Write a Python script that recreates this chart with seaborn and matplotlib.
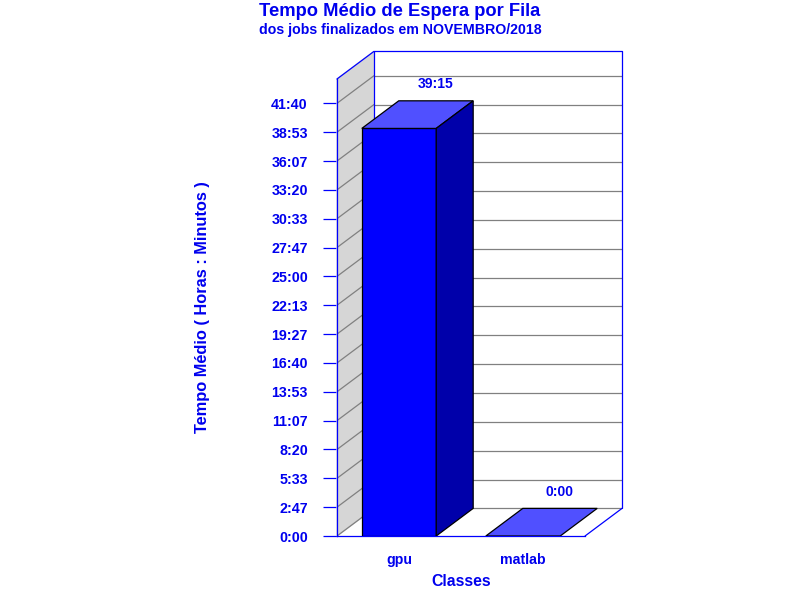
import numpy as np
import matplotlib
matplotlib.use("Agg")
import matplotlib.pyplot as plt
import seaborn as sns

# data (wait time in minutes)
classes = ["gpu", "matlab"]
wait_minutes = [2355, 0]
value_labels = ["39:15", "0:00"]

tick_values = np.linspace(0, 2500, 16)


def fmt_hm(m):
    m = int(round(m))
    return f"{m // 60}:{m % 60:02d}"


sns.set_theme(style="white")
plt.rcParams['font.family'] = ['Liberation Sans', 'DejaVu Sans']
plt.rcParams['font.weight'] = 'bold'

BLUE = "#0000ff"
TXT = "#0000ee"
W, H = 800, 600
fig = plt.figure(figsize=(8, 6), dpi=100)
fig.patch.set_facecolor("white")

# axes box: front plane 337..585 px, depth up to 622 px, baseline 536 px
ax = fig.add_axes([337 / W, 64 / H, 285 / W, 484.6 / H])
ax.set_facecolor("none")

ymax = 2800
dx = 0.298   # depth offset in category units
dy = 159.5   # depth offset in minutes
bw = 0.6

sns.barplot(x=classes, y=wait_minutes, color=BLUE, width=bw, saturation=1,
            edgecolor="black", linewidth=0.9, ax=ax, zorder=5)

x0, x1 = -0.5, 1.5
# back wall
ax.fill([x0 + dx, x1 + dx, x1 + dx, x0 + dx], [dy, dy, ymax, ymax],
        color="white", zorder=0.5, clip_on=False)
ax.plot([x0 + dx, x0 + dx, x1 + dx, x1 + dx], [dy, ymax, ymax, dy],
        color=BLUE, lw=0.9, zorder=2, clip_on=False)
# left wall
ax.fill([x0, x0 + dx, x0 + dx, x0], [0, dy, ymax, ymax - dy],
        color="#d6d6d6", zorder=0.6, clip_on=False)
ax.plot([x0, x0 + dx], [ymax - dy, ymax], color=BLUE, lw=0.9, zorder=2, clip_on=False)
# grid lines on back and left walls
for t in tick_values:
    ax.plot([x0 + dx, x1 + dx], [t + dy, t + dy], color="#808080", lw=0.9, zorder=1)
    ax.plot([x0, x0 + dx], [t, t + dy], color="#808080", lw=0.9, zorder=1)
# floor right edge
ax.plot([x1, x1 + dx], [0, dy], color=BLUE, lw=0.9, zorder=2, clip_on=False)

# 3d faces of the bars
for i, v in enumerate(wait_minutes):
    l, r = i - bw / 2, i + bw / 2
    ax.fill([l, r, r + dx, l + dx], [v, v, v + dy, v + dy], facecolor="#5050ff",
            edgecolor="black", lw=0.9, zorder=6)
    if v > 0:
        ax.fill([r, r + dx, r + dx, r], [0, dy, v + dy, v], facecolor="#0000aa",
                edgecolor="black", lw=0.9, zorder=6)
    ax.annotate(value_labels[i], (i + dx, v + dy), xytext=(0, 7),
                textcoords="offset points", ha="center", va="bottom",
                color=TXT, fontsize=10, fontweight="bold")

ax.set_xlim(x0, x1 + dx)
ax.set_ylim(0, ymax)
ax.set_yticks(tick_values)
ax.set_yticklabels([fmt_hm(t) for t in tick_values])
ax.tick_params(axis="y", direction="out", length=10, width=0.9, color=BLUE,
               labelcolor=TXT, labelsize=10.3, pad=11, left=True)
ax.tick_params(axis="x", length=0, labelcolor=TXT, labelsize=10.2, pad=12)
for lab in ax.get_yticklabels() + ax.get_xticklabels():
    lab.set_fontweight("bold")

for s in ["top", "right"]:
    ax.spines[s].set_visible(False)
ax.spines["left"].set_color(BLUE)
ax.spines["left"].set_linewidth(0.9)
ax.spines["left"].set_bounds(0, ymax - dy)
ax.spines["bottom"].set_color(BLUE)
ax.spines["bottom"].set_linewidth(0.9)
ax.spines["bottom"].set_bounds(x0, x1)
ax.spines["left"].set_zorder(7)
ax.set_xlabel("")
ax.set_ylabel("")

fig.text(461 / W, 1 - 582 / H, "Classes", ha="center", va="center",
         color=TXT, fontsize=11.4, fontweight="bold")
fig.text(203 / W, 1 - 307 / H, "Tempo Médio ( Horas : Minutos )", rotation=90,
         ha="center", va="center", color=TXT, fontsize=11.8, fontweight="bold")
fig.text(0.5, 1 - 11 / H, "Tempo Médio de Espera por Fila", ha="center", va="center",
         color=TXT, fontsize=13.2, fontweight="bold")
fig.text(0.5, 1 - 30 / H, "dos jobs finalizados em NOVEMBRO/2018", ha="center",
         va="center", color=TXT, fontsize=10.2, fontweight="bold")

fig.savefig("out.png", dpi=100)
